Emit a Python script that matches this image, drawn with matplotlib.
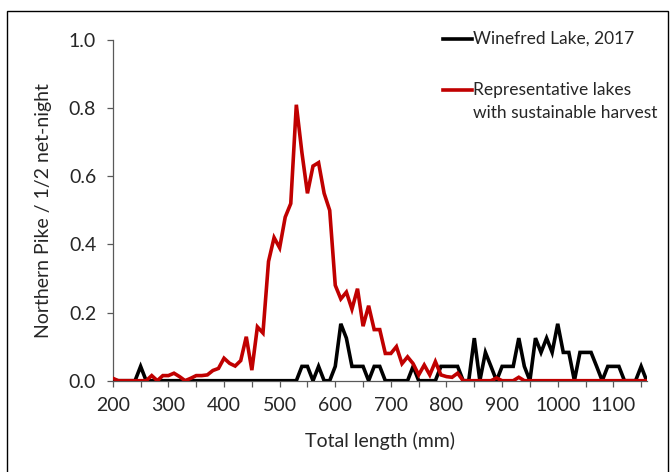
import numpy as np
import matplotlib
matplotlib.use("Agg")
import matplotlib.pyplot as plt
from matplotlib.lines import Line2D
from matplotlib.patches import Rectangle
from matplotlib.ticker import MultipleLocator, FuncFormatter

plt.rcParams['font.family'] = ['Lato', 'DejaVu Sans']

length_mm = list(range(200, 1170, 10))

winefred = [
    0, 0, 0, 0, 0, 0.042, 0, 0, 0, 0,            # 200-290
    0, 0, 0, 0, 0, 0, 0, 0, 0, 0,                # 300-390
    0, 0, 0, 0, 0, 0, 0, 0, 0, 0,                # 400-490
    0, 0, 0, 0, 0.042, 0.042, 0, 0.042, 0, 0,    # 500-590
    0.042, 0.167, 0.125, 0.042, 0.042, 0.042, 0, 0.042, 0.042, 0,  # 600-690
    0, 0, 0, 0, 0.042, 0, 0, 0, 0, 0.042,        # 700-790
    0.042, 0.042, 0.042, 0, 0, 0.125, 0, 0.083, 0.042, 0,  # 800-890
    0.042, 0.042, 0.042, 0.125, 0.042, 0, 0.125, 0.083, 0.125, 0.083,  # 900-990
    0.167, 0.083, 0.083, 0, 0.083, 0.083, 0.083, 0.042, 0, 0.042,  # 1000-1090
    0.042, 0.042, 0, 0, 0, 0.042, 0,             # 1100-1160
]

representative = [
    0.007, 0, 0, 0, 0, 0, 0, 0.015, 0, 0.015,              # 200-290
    0.015, 0.022, 0.012, 0, 0.007, 0.015, 0.015, 0.017, 0.03, 0.036,  # 300-390
    0.066, 0.051, 0.043, 0.059, 0.129, 0.031, 0.158, 0.14, 0.35, 0.42,  # 400-490
    0.39, 0.48, 0.52, 0.81, 0.67, 0.55, 0.63, 0.64, 0.55, 0.50,  # 500-590
    0.28, 0.24, 0.26, 0.21, 0.27, 0.16, 0.22, 0.15, 0.15, 0.08,  # 600-690
    0.08, 0.10, 0.05, 0.07, 0.05, 0.017, 0.046, 0.017, 0.056, 0.017,  # 700-790
    0.012, 0.01, 0.022, 0, 0, 0, 0, 0, 0, 0.008,           # 800-890
    0, 0, 0, 0.01, 0, 0, 0, 0, 0, 0,                       # 900-990
    0, 0, 0, 0, 0, 0, 0, 0, 0, 0,                          # 1000-1090
    0, 0, 0, 0, 0, 0, 0,                                   # 1100-1160
]

x_ticks_labels = [200, 300, 400, 500, 600, 700, 800, 900, 1000, 1100]
y_ticks = [0.0, 0.2, 0.4, 0.6, 0.8, 1.0]

W, H = 671, 472
fig = plt.figure(figsize=(W / 100, H / 100), dpi=100)

def fx(px):
    return px / W

def fy(py):
    return 1 - py / H

left, right = 112.8, 646.7
top, bottom = 40.0, 380.7
ax = fig.add_axes([fx(left), fy(bottom), fx(right) - fx(left), fy(top) - fy(bottom)])

lw = 2.6
ax.plot(length_mm, winefred, color='black', lw=lw, solid_joinstyle='miter', zorder=3)
ax.plot(length_mm, representative, color='#C00000', lw=lw, solid_joinstyle='miter', zorder=4)

ax.set_xlim(200, 1160)
ax.set_ylim(0, 1.0)
ax.xaxis.set_major_locator(MultipleLocator(50))
ax.xaxis.set_major_formatter(FuncFormatter(lambda v, p: f"{int(round(v))}" if int(round(v)) in x_ticks_labels else ""))
ax.set_yticks(y_ticks)
ax.set_yticklabels([f"{v:.1f}" for v in y_ticks])

for s in ['top', 'right']:
    ax.spines[s].set_visible(False)
axis_col = '#595959'
for s in ['left', 'bottom']:
    ax.spines[s].set_color(axis_col)
    ax.spines[s].set_linewidth(0.9)
ax.tick_params(axis='both', direction='out', length=4, width=0.9, color=axis_col,
               labelsize=14, labelcolor='#262626')
ax.tick_params(axis='x', pad=8)
ax.tick_params(axis='y', pad=8)

ax.set_xlabel("Total length (mm)", fontsize=14, color='#262626', labelpad=13)
ax.set_ylabel("Northern Pike / 1/2 net-night", fontsize=14, color='#262626', labelpad=12)

# legend (manual placement)
leg_fs = 12.5
fig.add_artist(Line2D([fx(443), fx(472)], [fy(39), fy(39)], color='black', lw=lw))
fig.text(fx(473), fy(39), "Winefred Lake, 2017", fontsize=leg_fs, color='#262626',
         va='center', ha='left')
fig.add_artist(Line2D([fx(443), fx(472)], [fy(90), fy(90)], color='#C00000', lw=lw))
fig.text(fx(473), fy(90), "Representative lakes", fontsize=leg_fs, color='#262626',
         va='center', ha='left')
fig.text(fx(473), fy(113), "with sustainable harvest", fontsize=leg_fs, color='#262626',
         va='center', ha='left')

# outer border of the chart area
fig.add_artist(Rectangle((fx(7), fy(490)), fx(668) - fx(7), fy(11) - fy(490),
                         fill=False, edgecolor='black', lw=1.0, transform=fig.transFigure))

fig.savefig("out.png", dpi=100)
